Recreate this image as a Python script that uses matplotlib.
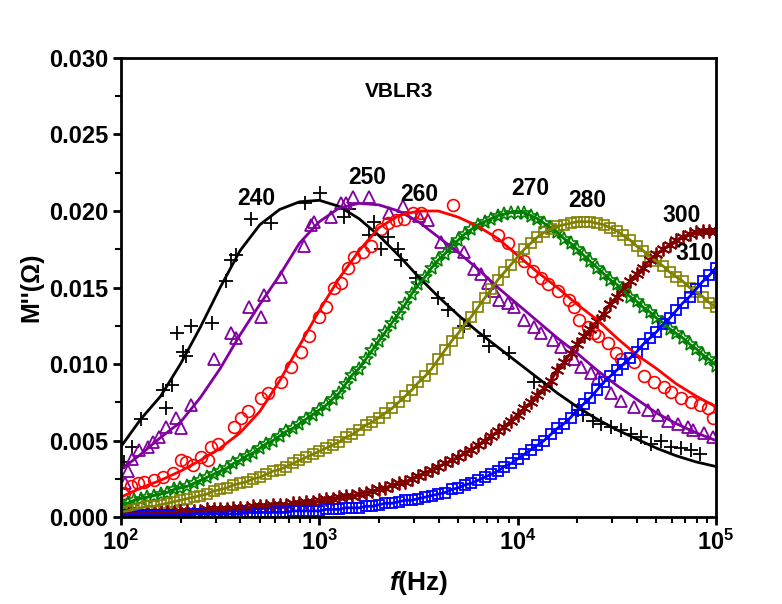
import math
import matplotlib
matplotlib.use('Agg')
import matplotlib.pyplot as plt
from matplotlib.ticker import LogLocator, MultipleLocator, FuncFormatter, NullFormatter

plt.rcParams['font.family'] = ['Liberation Sans', 'DejaVu Sans']
plt.rcParams['font.weight'] = 'bold'
plt.rcParams['mathtext.fontset'] = 'custom'
plt.rcParams['mathtext.rm'] = 'Liberation Sans:bold'
plt.rcParams['mathtext.it'] = 'Liberation Sans:italic:bold'
plt.rcParams['mathtext.bf'] = 'Liberation Sans:bold'

# measurement frequencies (30 per decade) and fit grid (10 per decade)
mant = [1.000, 1.080, 1.166, 1.259, 1.359, 1.468, 1.585, 1.711, 1.848, 1.995,
        2.154, 2.326, 2.512, 2.712, 2.929, 3.162, 3.415, 3.687, 3.981, 4.299,
        4.642, 5.012, 5.412, 5.843, 6.310, 6.813, 7.356, 7.943, 8.577, 9.261]
freq = [m * 10 ** e for e in (2, 3, 4) for m in mant] + [1e5]
freq_fit = freq[::3]

# 240 K
f240 = [104, 114, 126, 163, 169, 181, 191, 205, 213, 225, 287, 338, 358, 380, 452, 570,
        845, 1006, 1329, 1408, 1776, 1882, 2041, 2214, 2486, 2574, 3063, 3954, 4441,
        5346, 6741, 7143, 9010, 12040, 20060, 21260, 23870, 26190, 29410, 33030,
        37090, 41650, 46770, 52530, 58990, 66240, 74380, 83530]
m240 = [0.0036, 0.0046, 0.0064, 0.0083, 0.0071, 0.0086, 0.0120, 0.0108, 0.0105, 0.0125,
        0.0127, 0.0154, 0.0168, 0.0171, 0.0195, 0.0192, 0.0205, 0.0212, 0.0196, 0.0201,
        0.0184, 0.0193, 0.0175, 0.0183, 0.0175, 0.0168, 0.0156, 0.0143, 0.0135, 0.0125,
        0.0118, 0.0112, 0.0107, 0.0088, 0.0070, 0.0067, 0.0063, 0.0061, 0.0059, 0.0057,
        0.0054, 0.0052, 0.0048, 0.0050, 0.0046, 0.0045, 0.0044, 0.0041]
fit240 = [0.0046, 0.0064, 0.0079, 0.0100, 0.0124, 0.0150, 0.0174, 0.0191, 0.0201, 0.0206,
          0.0207, 0.0203, 0.0195, 0.0184, 0.0171, 0.0157, 0.0144, 0.0132, 0.0121, 0.0111,
          0.0101, 0.0091, 0.0081, 0.0072, 0.0064, 0.0057, 0.0051, 0.0045, 0.0040, 0.0036,
          0.0033]

# 250 K
f250 = [105, 108, 114, 123, 137, 145, 155, 169, 189, 201, 225, 294, 358, 380, 441, 507,
        525, 640, 836, 906, 938, 1143, 1283, 1360, 1475, 1776, 2239, 2634, 3171, 3521,
        4093, 4705, 5346, 6002, 6510, 7063, 7570, 8022, 8906, 9546, 10720, 12040, 13060,
        15010, 16470, 19150, 20770, 23330, 25300, 29410, 33030, 38410, 45170, 50740,
        56970, 63970, 71850, 77010, 86500, 96030]
m250 = [0.0022, 0.0030, 0.0038, 0.0044, 0.0046, 0.0049, 0.0052, 0.0059, 0.0065, 0.0058,
        0.0073, 0.0103, 0.0120, 0.0117, 0.0137, 0.0131, 0.0145, 0.0157, 0.0177, 0.0191,
        0.0193, 0.0196, 0.0205, 0.0205, 0.0209, 0.0209, 0.0199, 0.0203, 0.0197, 0.0194,
        0.0180, 0.0177, 0.0173, 0.0162, 0.0159, 0.0153, 0.0148, 0.0142, 0.0140, 0.0137,
        0.0129, 0.0124, 0.0120, 0.0116, 0.0111, 0.0103, 0.0098, 0.0094, 0.0091, 0.0081,
        0.0076, 0.0072, 0.0070, 0.0067, 0.0063, 0.0061, 0.0059, 0.0057, 0.0055, 0.0052]
fit250 = [0.0031, 0.0041, 0.0052, 0.0062, 0.0078, 0.0097, 0.0119, 0.0139, 0.0158, 0.0179,
          0.0193, 0.0202, 0.0205, 0.0204, 0.0200, 0.0193, 0.0183, 0.0173, 0.0162, 0.0150,
          0.0139, 0.0128, 0.0117, 0.0107, 0.0096, 0.0086, 0.0077, 0.0068, 0.0061, 0.0055,
          0.0050]

# 260 K
f260 = [104, 112, 122, 131, 147, 163, 183, 201, 213, 231, 253, 274, 284, 308, 371, 402,
        436, 507, 550, 640, 718, 807, 885, 994, 1078, 1183, 1283, 1392, 1492, 1656, 1817,
        2041, 2214, 2429, 2665, 2958, 3246, 4705, 7928, 8906, 10720, 11900, 13060, 14160,
        15900, 18070, 19150, 20290, 22530, 24150, 25300, 28410, 31160, 33030, 38410,
        43120, 48420, 54390, 58990, 66240, 74380, 83530, 90620, 97140]
m260 = [0.0016, 0.0020, 0.0022, 0.0023, 0.0024, 0.0026, 0.0029, 0.0037, 0.0036, 0.0034,
        0.0039, 0.0037, 0.0046, 0.0048, 0.0059, 0.0065, 0.0069, 0.0078, 0.0081, 0.0088,
        0.0098, 0.0108, 0.0118, 0.0131, 0.0137, 0.0150, 0.0153, 0.0163, 0.0170, 0.0173,
        0.0177, 0.0188, 0.0192, 0.0194, 0.0195, 0.0199, 0.0199, 0.0204, 0.0184, 0.0179,
        0.0167, 0.0161, 0.0156, 0.0152, 0.0148, 0.0142, 0.0137, 0.0129, 0.0124, 0.0120,
        0.0118, 0.0114, 0.0107, 0.0103, 0.0101, 0.0092, 0.0088, 0.0085, 0.0082, 0.0078,
        0.0075, 0.0073, 0.0071, 0.0065]
fit260 = [0.0013, 0.0019, 0.0024, 0.0030, 0.0037, 0.0045, 0.0055, 0.0069, 0.0089, 0.0112,
          0.0135, 0.0156, 0.0174, 0.0189, 0.0197, 0.0200, 0.0200, 0.0196, 0.0190, 0.0182,
          0.0171, 0.0160, 0.0150, 0.0139, 0.0129, 0.0117, 0.0106, 0.0097, 0.0087, 0.0079,
          0.0072]

# 270, 280, 300, 310 K: data follow the fits, one value per measurement frequency
m270 = [0.0008, 0.0009, 0.0011, 0.0012, 0.0013, 0.0014, 0.0015, 0.0016, 0.0018, 0.0019,
        0.0020, 0.0022, 0.0024, 0.0026, 0.0028, 0.0030, 0.0032, 0.0035, 0.0037, 0.0040,
        0.0042, 0.0045, 0.0048, 0.0050, 0.0053, 0.0056, 0.0058, 0.0061, 0.0064, 0.0067,
        0.0070, 0.0073, 0.0077, 0.0081, 0.0087, 0.0093, 0.0097, 0.0103, 0.0109, 0.0115,
        0.0121, 0.0127, 0.0133, 0.0139, 0.0146, 0.0152, 0.0157, 0.0163, 0.0168, 0.0172,
        0.0177, 0.0181, 0.0185, 0.0188, 0.0191, 0.0193, 0.0195, 0.0197, 0.0198, 0.0199,
        0.0199, 0.0199, 0.0197, 0.0195, 0.0192, 0.0189, 0.0186, 0.0182, 0.0179, 0.0175,
        0.0171, 0.0167, 0.0163, 0.0159, 0.0155, 0.0152, 0.0148, 0.0144, 0.0141, 0.0137,
        0.0134, 0.0130, 0.0127, 0.0123, 0.0120, 0.0117, 0.0113, 0.0110, 0.0106, 0.0103,
        0.0099]
m280 = [0.0003, 0.0004, 0.0005, 0.0006, 0.0007, 0.0007, 0.0008, 0.0009, 0.0010, 0.0011,
        0.0012, 0.0013, 0.0014, 0.0015, 0.0017, 0.0018, 0.0019, 0.0021, 0.0022, 0.0023,
        0.0025, 0.0026, 0.0028, 0.0030, 0.0031, 0.0033, 0.0035, 0.0037, 0.0039, 0.0041,
        0.0043, 0.0045, 0.0047, 0.0049, 0.0052, 0.0054, 0.0057, 0.0060, 0.0062, 0.0065,
        0.0068, 0.0071, 0.0075, 0.0079, 0.0083, 0.0088, 0.0092, 0.0097, 0.0103, 0.0109,
        0.0115, 0.0120, 0.0126, 0.0131, 0.0137, 0.0143, 0.0149, 0.0155, 0.0160, 0.0165,
        0.0170, 0.0175, 0.0179, 0.0183, 0.0186, 0.0188, 0.0190, 0.0191, 0.0192, 0.0193,
        0.0193, 0.0193, 0.0192, 0.0191, 0.0189, 0.0187, 0.0184, 0.0181, 0.0177, 0.0174,
        0.0170, 0.0167, 0.0164, 0.0160, 0.0157, 0.0154, 0.0150, 0.0147, 0.0144, 0.0140,
        0.0137]
m300 = [0.0002, 0.0002, 0.0002, 0.0002, 0.0002, 0.0003, 0.0003, 0.0003, 0.0003, 0.0004,
        0.0004, 0.0004, 0.0004, 0.0005, 0.0005, 0.0005, 0.0005, 0.0006, 0.0006, 0.0006,
        0.0007, 0.0007, 0.0007, 0.0008, 0.0008, 0.0008, 0.0009, 0.0009, 0.0010, 0.0010,
        0.0011, 0.0012, 0.0012, 0.0013, 0.0014, 0.0014, 0.0015, 0.0016, 0.0017, 0.0018,
        0.0019, 0.0021, 0.0022, 0.0023, 0.0025, 0.0027, 0.0029, 0.0031, 0.0033, 0.0035,
        0.0037, 0.0039, 0.0042, 0.0044, 0.0047, 0.0050, 0.0053, 0.0056, 0.0059, 0.0063,
        0.0067, 0.0071, 0.0075, 0.0080, 0.0084, 0.0089, 0.0096, 0.0101, 0.0107, 0.0113,
        0.0118, 0.0123, 0.0128, 0.0133, 0.0139, 0.0144, 0.0149, 0.0154, 0.0159, 0.0163,
        0.0168, 0.0172, 0.0175, 0.0178, 0.0181, 0.0183, 0.0185, 0.0186, 0.0187, 0.0187,
        0.0187]
m310 = [0.0001, 0.0001, 0.0001, 0.0001, 0.0001, 0.0001, 0.0001, 0.0001, 0.0001, 0.0001,
        0.0001, 0.0002, 0.0002, 0.0002, 0.0002, 0.0002, 0.0002, 0.0002, 0.0002, 0.0003,
        0.0003, 0.0003, 0.0003, 0.0003, 0.0003, 0.0003, 0.0004, 0.0004, 0.0004, 0.0004,
        0.0004, 0.0005, 0.0005, 0.0005, 0.0006, 0.0006, 0.0006, 0.0007, 0.0007, 0.0008,
        0.0009, 0.0009, 0.0010, 0.0011, 0.0011, 0.0012, 0.0013, 0.0014, 0.0015, 0.0016,
        0.0018, 0.0019, 0.0021, 0.0022, 0.0024, 0.0026, 0.0028, 0.0030, 0.0033, 0.0035,
        0.0038, 0.0041, 0.0044, 0.0047, 0.0050, 0.0054, 0.0058, 0.0061, 0.0065, 0.0070,
        0.0074, 0.0078, 0.0083, 0.0088, 0.0092, 0.0096, 0.0100, 0.0104, 0.0108, 0.0113,
        0.0117, 0.0121, 0.0126, 0.0130, 0.0135, 0.0140, 0.0144, 0.0149, 0.0154, 0.0158,
        0.0163]

# curve labels: text, frequency, M''
labels = ['240', '250', '260', '270', '280', '300', '310']
label_f = [484, 1754, 3209, 11630, 22530, 67000, 78000]
label_m = [0.0208, 0.0222, 0.0211, 0.0215, 0.0207, 0.0197, 0.0172]

fig = plt.figure(figsize=(7.82, 6.04), dpi=100)
ax = fig.add_axes([0.1547, 0.1440, 0.7609, 0.7600])

# data points
ax.plot(f240, m240, ls='none', marker='+', ms=10, mew=1.3, color='black')
ax.plot(f250, m250, ls='none', marker='^', ms=9, mfc='none', mew=1.3, color='#8000a0')
ax.plot(f260, m260, ls='none', marker='o', ms=8.5, mfc='none', mew=1.2, color='#ff0000')
ax.plot(freq, m270, ls='none', marker='*', ms=10, mfc='none', mew=1.2, color='#008000')
ax.plot(freq, m280, ls='none', marker='s', ms=6.5, mfc='none', mew=1.2, color='#808000')
ax.plot(freq, m300, ls='none', marker=(6, 2, 0), ms=10, mew=1.3, color='#800000')
ax.plot(freq, m310, ls='none', marker='s', ms=6.5, mfc='none', mew=1.3, color='#0000ff')

# fits
ax.plot(freq_fit, fit240, color='black', lw=2)
ax.plot(freq_fit, fit250, color='#8000a0', lw=2)
ax.plot(freq_fit, fit260, color='#ff0000', lw=2)
ax.plot(freq, m270, color='#008000', lw=2)
ax.plot(freq, m280, color='#808000', lw=2)
ax.plot(freq, m300, color='#800000', lw=2)
ax.plot(freq, m310, color='#0000ff', lw=2)

for t, x, y in zip(labels, label_f, label_m):
    ax.text(x, y, t, ha='center', va='center', fontsize=16.5, fontweight='bold')
ax.text(2515, 0.0278, 'VBLR3', ha='center', va='center', fontsize=15, fontweight='bold')

ax.set_xscale('log')
ax.set_xlim(1e2, 1e5)
ax.set_ylim(0, 0.030)

ax.xaxis.set_major_locator(LogLocator(base=10, numticks=10))
ax.xaxis.set_minor_locator(LogLocator(base=10, subs=range(2, 10), numticks=20))
ax.xaxis.set_major_formatter(FuncFormatter(lambda v, p: r'$10^{%d}$' % round(math.log10(v))))
ax.xaxis.set_minor_formatter(NullFormatter())
ax.yaxis.set_major_locator(MultipleLocator(0.005))
ax.yaxis.set_minor_locator(MultipleLocator(0.0025))
ax.yaxis.set_major_formatter(FuncFormatter(lambda v, p: '%.3f' % v))

for s in ax.spines.values():
    s.set_linewidth(2)
ax.tick_params(which='major', direction='out', length=6, width=2, labelsize=17, pad=3)
ax.tick_params(which='minor', direction='out', length=4, width=1.5)
ax.tick_params(top=False, right=False, which='both')
for lab in ax.get_xticklabels() + ax.get_yticklabels():
    lab.set_fontweight('bold')

ax.set_xlabel(r'$f$(Hz)', fontsize=19, fontweight='bold', labelpad=10)
ax.set_ylabel("M''(\u03a9)", fontsize=18, fontweight='bold', labelpad=4)

fig.savefig('out.png', dpi=100)
